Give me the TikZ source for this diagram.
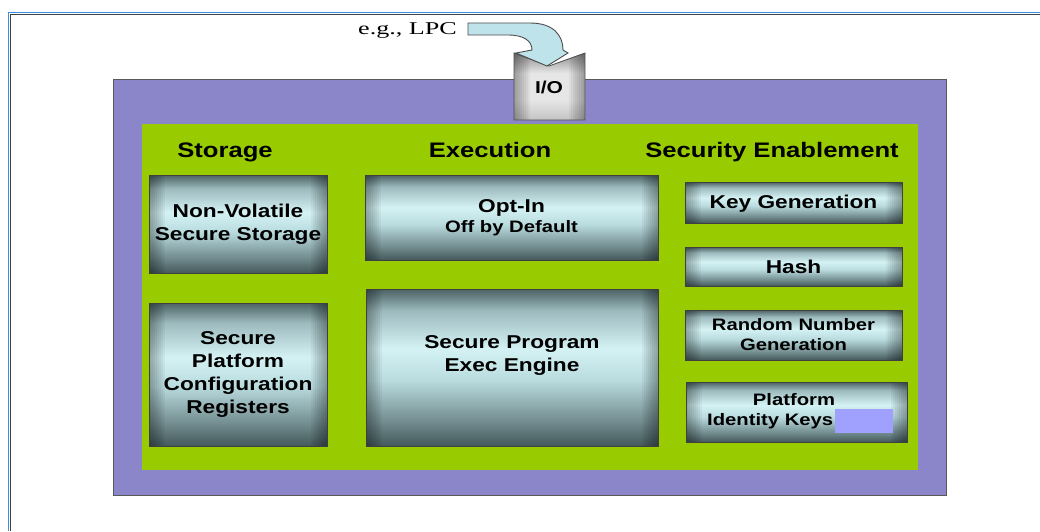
\documentclass[tikz,border=0pt]{standalone}
\usepackage{fontspec}
\newfontfamily\labfont[FakeStretch=1.22]{Liberation Sans}
\newfontfamily\notefont[FakeStretch=1.45]{Liberation Serif}

\definecolor{framebl}{HTML}{3D8EDE}
\definecolor{chipbg}{HTML}{8B86C9}
\definecolor{coregr}{HTML}{99CC00}
\definecolor{arrowbl}{HTML}{BFE3EA}
\definecolor{keyslot}{HTML}{A0A0FF}
\definecolor{cylB}{HTML}{44595B}
\definecolor{cylBm}{HTML}{738D90}
\definecolor{cylLm}{HTML}{BADCDF}
\definecolor{cylL}{HTML}{D4F2F4}
\definecolor{cylTm}{HTML}{9DBBBE}
\definecolor{cylT}{HTML}{4C6265}
\definecolor{ioB}{HTML}{C4C4C4}
\definecolor{ioL}{HTML}{E6E6E6}
\definecolor{ioT}{HTML}{8E8E8E}

% rounded-bar look of the function blocks
\pgfdeclareverticalshading{cylsh}{100bp}{color(0bp)=(cylB); color(25bp)=(cylB);
  color(33bp)=(cylBm); color(46bp)=(cylLm); color(56bp)=(cylL);
  color(68bp)=(cylTm); color(75bp)=(cylT); color(100bp)=(cylT)}
\pgfdeclareverticalshading{iosh}{100bp}{color(0bp)=(ioB); color(25bp)=(ioB);
  color(40bp)=(ioL); color(60bp)=(ioL); color(75bp)=(ioT); color(100bp)=(ioT)}

\tikzset{
  % darkened rounded ends, built from stacked translucent strips
  sidedark/.style={path picture={
    \foreach \i in {0,...,7}{
      \fill[black,opacity=.045] (path picture bounding box.south west)
        rectangle ([xshift={(16-2*\i)*1pt}]path picture bounding box.north west);
      \fill[black,opacity=.045] (path picture bounding box.south east)
        rectangle ([xshift={(2*\i-16)*1pt}]path picture bounding box.north east);}}},
  cyl/.style={draw=black!75, line width=.8pt, shading=cylsh, sidedark,
    inner sep=0pt, outer sep=0pt, align=center,
    font=\labfont\bfseries\fontsize{18.6}{23}\selectfont},
  cylsmall/.style={cyl, font=\labfont\bfseries\fontsize{16.6}{20}\selectfont},
  hdr/.style={anchor=base, inner sep=0pt, font=\labfont\bfseries\fontsize{21}{24}\selectfont},
  lbl/.style={inner sep=0pt, font=\labfont\bfseries\fontsize{16.6}{20}\selectfont},
}

\begin{document}
\begin{tikzpicture}[x=1pt,y=-1pt]
  \useasboundingbox (0,0) rectangle (1040,531);
  \fill[white] (0,0) rectangle (1040,531);

  % window frame
  \draw[framebl, line width=1.6pt] (8.5,531) -- (8.5,12.5) -- (1040,12.5);
  \draw[black!75, line width=1pt] (10.5,531) -- (10.5,14.5) -- (1040,14.5);

  % chip and core
  \node[draw=black!65, line width=.8pt, fill=chipbg, minimum width=833pt, minimum height=416pt,
        inner sep=0pt] (chip) at (529.5,287) {};
  \node[fill=coregr, minimum width=776pt, minimum height=346pt, inner sep=0pt] (core) at (530,297) {};

  % I/O port
  \draw[draw=black!70, line width=.8pt, shading=iosh, sidedark]
    (514,53) -- (549,66) -- (585,53) -- (585,120) -- (514,120) -- cycle;
  \node[hdr, font=\labfont\bfseries\fontsize{17.2}{20}\selectfont] (io) at (549,93) {I/O};

  % bus entering the port
  \node[anchor=base west, inner sep=0pt, font=\notefont\fontsize{18}{20}\selectfont] (lpc) at (358,34) {e.g., LPC};
  \draw[fill=arrowbl, draw=black!70, line width=.9pt]
    (468,23) -- (530,23) .. controls (553,23) and (563,35) .. (563,50)
    -- (568,53) -- (547,66) -- (516,53) -- (532,50)
    .. controls (532,41) and (524,35) .. (508,35) -- (468,35) -- cycle;

  % column headings
  \node[hdr] (hstor) at (225,157) {Storage};
  \node[hdr] (hexec) at (490,157) {Execution};
  \node[hdr] (hsec) at (772,157) {Security Enablement};

  % storage column
  \node[cyl, minimum width=178pt, minimum height=98pt] (nvs) at (238,224)
    {Non-Volatile\\Secure Storage};
  \node[cyl, minimum width=178pt, minimum height=143pt] (pcr) at (238,374.5)
    {Secure\\Platform\\Configuration\\Registers};

  % execution column
  \node[cylsmall, minimum width=293pt, minimum height=85pt] (optin) at (511.5,217.5)
    {{\fontsize{18.6}{20}\selectfont Opt-In}\\Off by Default};
  \node[cyl, minimum width=292pt, minimum height=157pt] (engine) at (512,367.5)
    {Secure Program\\Exec Engine\\[6pt]};

  % security enablement column
  \node[cyl, minimum width=217pt, minimum height=41pt, text depth=1pt] (keygen) at (793.5,202.5) {Key Generation};
  \node[cyl, minimum width=217pt, minimum height=39pt] (hash) at (793.5,266.5) {Hash};
  \node[cylsmall, minimum width=217pt, minimum height=50pt] (rng) at (793.5,335)
    {Random Number\\Generation};
  \node[cyl, minimum width=221pt, minimum height=60pt] (pik) at (796.5,412) {};
  \node[lbl, anchor=base] (pikA) at (794,405) {Platform};
  \node[lbl, anchor=base west] (pikB) at (707,425) {Identity Keys};
  \node[fill=keyslot, minimum width=58pt, minimum height=24pt, inner sep=0pt] (slot) at (864,421) {};
\end{tikzpicture}
\end{document}
